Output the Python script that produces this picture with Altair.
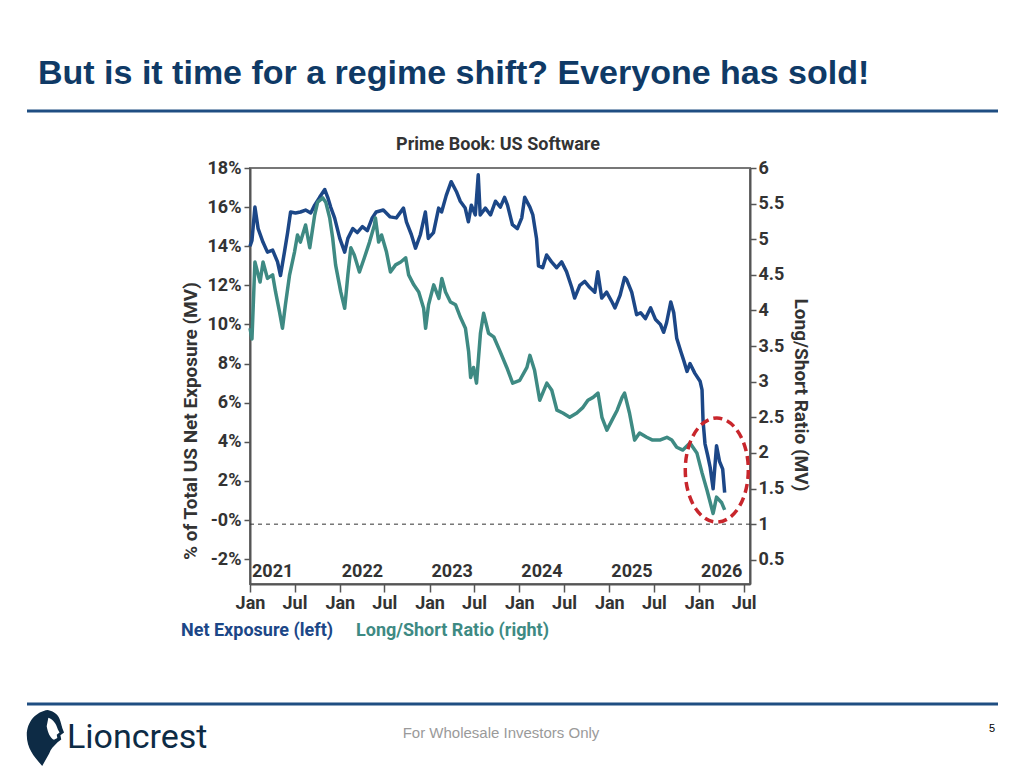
import altair as alt
import pandas as pd

# ---------------- data ----------------
net_dates = [
    "2021-01-01", "2021-01-09", "2021-01-21", "2021-02-03", "2021-02-23", "2021-03-13",
    "2021-04-03", "2021-04-23", "2021-05-05", "2021-05-21", "2021-06-03", "2021-06-15",
    "2021-07-05", "2021-07-25", "2021-08-15", "2021-09-05", "2021-09-21", "2021-10-11",
    "2021-11-01", "2021-11-13", "2021-11-25", "2021-12-11", "2022-01-01", "2022-01-21",
    "2022-02-03", "2022-02-23", "2022-03-13", "2022-04-03", "2022-04-23", "2022-05-13",
    "2022-05-29", "2022-06-27", "2022-07-25", "2022-08-19", "2022-09-17", "2022-09-29",
    "2022-10-19", "2022-11-05", "2022-11-25", "2022-12-15", "2022-12-27", "2023-01-17",
    "2023-02-07", "2023-02-19", "2023-03-10", "2023-03-30", "2023-04-20", "2023-05-06",
    "2023-05-26", "2023-06-08", "2023-06-20", "2023-07-06", "2023-07-18", "2023-07-26",
    "2023-08-16", "2023-09-06", "2023-09-26", "2023-10-16", "2023-11-02", "2023-11-14",
    "2023-12-04", "2023-12-24", "2024-01-11", "2024-01-23", "2024-02-13", "2024-02-25",
    "2024-03-11", "2024-03-19", "2024-04-05", "2024-04-21", "2024-05-11", "2024-06-01",
    "2024-06-21", "2024-07-11", "2024-08-01", "2024-08-13", "2024-09-03", "2024-09-23",
    "2024-10-13", "2024-11-03", "2024-11-15", "2024-12-01", "2024-12-21", "2025-01-12",
    "2025-01-24", "2025-02-14", "2025-03-04", "2025-03-12", "2025-04-02", "2025-04-22",
    "2025-05-08", "2025-05-28", "2025-06-18", "2025-07-08", "2025-07-28", "2025-08-10",
    "2025-08-22", "2025-09-08", "2025-09-20", "2025-10-02", "2025-10-19", "2025-11-01",
    "2025-11-13", "2025-11-25", "2025-12-15", "2026-01-05", "2026-01-13", "2026-01-17",
    "2026-01-25", "2026-02-05", "2026-02-15", "2026-02-27", "2026-03-13", "2026-03-25",
    "2026-04-07", "2026-04-15",
]
net_values = [
    14.0, 14.3, 16.0, 14.9, 14.2, 13.7,
    13.8, 13.2, 12.5, 13.7, 14.7, 15.75,
    15.7, 15.75, 15.85, 15.7, 16.1, 16.5,
    16.9, 16.5, 16.0, 15.45, 14.4, 13.7,
    14.4, 14.9, 14.7, 15.0, 14.8, 15.45,
    15.75, 15.85, 15.5, 15.45, 15.95, 15.25,
    14.6, 13.9, 14.6, 15.75, 14.4, 14.7,
    15.95, 15.75, 16.6, 17.3, 16.8, 16.3,
    15.95, 15.25, 16.1, 15.6, 17.65, 15.6,
    15.95, 15.6, 16.3, 16.0, 16.5, 16.1,
    15.1, 14.9, 15.45, 16.5, 16.0, 15.6,
    14.4, 13.0, 12.9, 13.55, 13.2, 12.9,
    13.2, 12.7, 11.9, 11.35, 12.0, 12.2,
    11.9, 11.65, 12.7, 11.35, 11.65, 11.15,
    10.85, 11.5, 12.4, 12.3, 11.65, 10.5,
    10.6, 10.3, 10.85, 10.25, 10.0, 9.6,
    10.1, 11.15, 10.6, 9.3, 8.6, 8.1,
    7.6, 8.0, 7.5, 7.1, 6.65, 5.1,
    3.9, 3.3, 2.7, 1.6, 3.8, 3.0,
    2.6, 1.4,
]

ratio_dates = [
    "2021-01-01", "2021-01-09", "2021-01-21", "2021-02-11", "2021-02-23", "2021-03-13",
    "2021-04-03", "2021-04-15", "2021-05-01", "2021-05-13", "2021-05-25", "2021-06-11",
    "2021-07-01", "2021-07-13", "2021-07-25", "2021-08-15", "2021-09-01", "2021-09-21",
    "2021-10-03", "2021-10-24", "2021-11-05", "2021-11-21", "2021-12-03", "2021-12-15",
    "2022-01-05", "2022-01-21", "2022-02-03", "2022-02-15", "2022-03-01", "2022-03-22",
    "2022-04-11", "2022-05-02", "2022-05-22", "2022-05-26", "2022-06-08", "2022-06-20",
    "2022-07-10", "2022-07-26", "2022-08-16", "2022-09-06", "2022-09-26", "2022-10-08",
    "2022-10-29", "2022-11-18", "2022-12-08", "2022-12-16", "2022-12-28", "2023-01-18",
    "2023-02-08", "2023-02-20", "2023-03-07", "2023-03-27", "2023-04-17", "2023-05-07",
    "2023-05-27", "2023-06-09", "2023-06-17", "2023-06-29", "2023-07-11", "2023-07-27",
    "2023-08-09", "2023-08-29", "2023-09-19", "2023-10-13", "2023-11-11", "2023-12-05",
    "2024-01-03", "2024-02-01", "2024-02-13", "2024-03-03", "2024-03-24", "2024-04-22",
    "2024-05-12", "2024-06-02", "2024-06-26", "2024-07-24", "2024-08-22", "2024-09-16",
    "2024-10-06", "2024-10-27", "2024-11-16", "2024-12-02", "2024-12-22", "2025-01-12",
    "2025-02-02", "2025-02-22", "2025-03-04", "2025-03-24", "2025-04-14", "2025-05-04",
    "2025-06-02", "2025-06-26", "2025-07-25", "2025-08-23", "2025-09-12", "2025-10-02",
    "2025-10-27", "2025-11-25", "2025-12-23", "2026-01-13", "2026-02-02", "2026-02-27",
    "2026-03-13", "2026-04-03", "2026-04-15",
]
ratio_values = [
    3.75, 3.6, 4.68, 4.4, 4.68, 4.45,
    4.5, 4.26, 3.98, 3.75, 4.08, 4.5,
    4.82, 5.06, 4.96, 5.2, 4.88, 5.34,
    5.52, 5.58, 5.52, 5.3, 5.02, 4.64,
    4.26, 4.03, 4.5, 4.88, 4.78, 4.54,
    4.74, 4.96, 5.2, 5.3, 4.96, 5.06,
    4.82, 4.54, 4.64, 4.68, 4.74, 4.5,
    4.36, 4.26, 4.03, 3.75, 4.08, 4.36,
    4.17, 4.45, 4.26, 4.12, 4.08, 3.9,
    3.75, 3.42, 3.06, 3.2, 2.98, 3.68,
    3.96, 3.68, 3.63, 3.44, 3.2, 2.98,
    3.02, 3.2, 3.37, 3.16, 2.74, 2.98,
    2.88, 2.6, 2.56, 2.5, 2.56, 2.64,
    2.74, 2.78, 2.84, 2.5, 2.32, 2.46,
    2.6, 2.78, 2.84, 2.56, 2.18, 2.28,
    2.22, 2.18, 2.18, 2.22, 2.18, 2.08,
    2.04, 2.14, 2.0, 1.72, 1.48, 1.15,
    1.38, 1.3, 1.2,
]

year_labels = ["2021", "2022", "2023", "2024", "2025", "2026"]
year_starts = ["2021-01-01", "2022-01-01", "2023-01-01", "2024-01-01", "2025-01-01", "2026-01-01"]

left_ticks = [-2, 0, 2, 4, 6, 8, 10, 12, 14, 16, 18]
right_ticks = [0.5, 1, 1.5, 2, 2.5, 3, 3.5, 4, 4.5, 5, 5.5, 6]
parity_level = [1.0]

# highlighted recent selloff
focus_date = ["2026-03-14"]
focus_ratio = [1.76]

# ---------------- styling ----------------
NAVY = "#1c4787"
TEAL = "#3e8a83"
INK = "#333333"
FONT = "Roboto"
FS = 18
W, H = 500, 416

net_df = pd.DataFrame({"date": net_dates, "net": net_values})
ratio_df = pd.DataFrame({"date": ratio_dates, "ratio": ratio_values})
year_df = pd.DataFrame({"date": year_starts, "label": year_labels})

x_ticks = []
for yr in range(2021, 2027):
    x_ticks.append(alt.DateTime(year=yr, month=1, date=1, utc=True))
    x_ticks.append(alt.DateTime(year=yr, month=7, date=1, utc=True))

x_scale = alt.Scale(
    type="utc",
    domain=[alt.DateTime(year=2021, month=1, date=1, utc=True),
            alt.DateTime(year=2026, month=7, date=27, utc=True)],
)
x_axis = alt.Axis(
    values=x_ticks, labelExpr="utcFormat(datum.value, '%b')", title=None,
    grid=False, tickSize=8, labelPadding=2, labelFlush=False, labelOverlap=False,
)
x_enc = alt.X("date:T", scale=x_scale, axis=x_axis)

left_scale = alt.Scale(domain=[-3.27, 18], nice=False, zero=False)
left_axis = alt.Axis(
    values=left_ticks, labelExpr="datum.value == 0 ? '-0%' : datum.value + '%'",
    title=None, grid=False, tickSize=6, labelPadding=3,
)
right_scale = alt.Scale(domain=[0.16, 6], nice=False, zero=False)
right_axis = alt.Axis(
    values=right_ticks, format=".1~f", orient="right",
    title=None, grid=False, tickSize=6, labelPadding=2,
)
y_left = alt.Y("net:Q", scale=left_scale, axis=left_axis)
y_right = alt.Y("ratio:Q", scale=right_scale, axis=right_axis)


def note(text, x, y, **kw):
    """A piece of text placed in pixel space around the plot area."""
    return alt.Chart(pd.DataFrame({"t": [text]})).mark_text(**kw).encode(
        text="t:N", x=alt.value(x), y=alt.value(y)
    )


def hline(x0, x1, y, color, width):
    return alt.Chart(pd.DataFrame({"k": [0]})).mark_rule(
        color=color, strokeWidth=width
    ).encode(x=alt.value(x0), x2=alt.value(x1), y=alt.value(y))


# ---------------- left axis: net exposure ----------------
net_line = alt.Chart(net_df).mark_line(
    color=NAVY, strokeWidth=3.5, strokeJoin="round"
).encode(x=x_enc, y=y_left)

years = alt.Chart(year_df).mark_text(
    align="left", baseline="middle", dx=2, font=FONT, fontWeight="bold",
    fontSize=FS, color=INK,
).encode(x=x_enc, y=alt.value(H - 12), text="label:N")

chart_bits = [
    note("Prime Book: US Software", W / 2 - 2, -23, font=FONT, fontWeight="bold",
         fontSize=FS, color=INK, align="center", baseline="middle"),
    note("% of Total US Net Exposure (MV)", -59, 253, font=FONT, fontWeight="bold",
         fontSize=19, color=INK, angle=270, align="center", baseline="middle"),
    note("Long/Short Ratio (MV)", 551, 227, font=FONT, fontWeight="bold",
         fontSize=19, color=INK, angle=90, align="center", baseline="middle"),
    note("Net Exposure (left)", -69, 463, font=FONT, fontWeight="bold",
         fontSize=FS, color=NAVY, align="left", baseline="middle"),
    note("Long/Short Ratio (right)", 106, 463, font=FONT, fontWeight="bold",
         fontSize=FS, color=TEAL, align="left", baseline="middle"),
]

# slide furniture
SLIDE_BLUE = "#1f4e82"
slide_bits = [
    note("But is it time for a regime shift? Everyone has sold!", -212, -94,
         font="Liberation Sans", fontWeight="bold", fontSize=34, color="#0f3a66",
         align="left", baseline="middle"),
    hline(-223, 748, -57, SLIDE_BLUE, 3),
    hline(-223, 748, 536, SLIDE_BLUE, 3),
    note("For Wholesale Investors Only", 251, 565, font="Liberation Sans",
         fontSize=15, color="#9a9a9a", align="center", baseline="middle"),
    note("5", 742, 561, font="Liberation Sans", fontSize=11, color="#000000",
         align="center", baseline="middle"),
    note("Lioncrest", -183, 570, font=FONT, fontSize=34, color="#0d2b45",
         align="left", baseline="middle"),
]

lion_head = (
    "M 0.1 -1 C 0.35 -0.95 0.5 -0.8 0.55 -0.6 L 0.62 -0.35 L 0.68 -0.2 "
    "L 0.55 -0.1 L 0.58 0.05 L 0.45 0.15 C 0.3 0.3 0.2 0.4 0.15 0.55 "
    "L -0.1 1 C -0.35 0.7 -0.65 0.4 -0.65 -0.1 C -0.65 -0.6 -0.3 -0.95 0.1 -1 Z"
)
lion_face = (
    "M 0.12 -0.72 C 0.3 -0.66 0.4 -0.5 0.46 -0.3 L 0.52 -0.2 L 0.42 -0.12 "
    "L 0.44 0.0 L 0.32 0.06 C 0.18 0.0 0.1 -0.2 0.06 -0.42 Z"
)
lion = alt.Chart(pd.DataFrame({"shape": [lion_head, lion_face],
                               "fill": ["#0d2b45", "#ffffff"]})).mark_point(
    filled=True, opacity=1, size=3136, strokeWidth=0
).encode(
    x=alt.value(-205), y=alt.value(570),
    shape=alt.Shape("shape:N", scale=None, legend=None),
    fill=alt.Fill("fill:N", scale=None, legend=None),
)

left_layer = alt.layer(net_line, years, *chart_bits, *slide_bits, lion)

# ---------------- right axis: long/short ratio ----------------
ratio_line = alt.Chart(ratio_df).mark_line(
    color=TEAL, strokeWidth=3.5, strokeJoin="round"
).encode(x=x_enc, y=y_right)

parity = alt.Chart(pd.DataFrame({"ratio": parity_level})).mark_rule(
    color=INK, strokeWidth=1, strokeDash=[4, 4]
).encode(y=y_right)

ellipse_path = (
    "M 0.606 0 C 0.606 0.552 0.335 1 0 1 C -0.335 1 -0.606 0.552 -0.606 0 "
    "C -0.606 -0.552 -0.335 -1 0 -1 C 0.335 -1 0.606 -0.552 0.606 0 Z"
)
focus = alt.Chart(pd.DataFrame({"date": focus_date, "ratio": focus_ratio})).mark_point(
    shape=ellipse_path, filled=False, color="#c8262c", opacity=1, size=10816,
    strokeWidth=3.5, strokeDash=[9, 5],
).encode(x=x_enc, y=y_right)

right_layer = alt.layer(ratio_line, parity, focus)

chart = (
    alt.layer(left_layer, right_layer)
    .resolve_scale(y="independent")
    .properties(
        width=W, height=H,
        padding={"left": 250, "top": 168, "right": 274, "bottom": 184},
        autosize=alt.AutoSizeParams(type="none"),
        background="white",
    )
    .configure_view(stroke="#777777", strokeWidth=2)
    .configure_axis(
        labelFont=FONT, labelFontWeight="bold", labelFontSize=FS, labelColor=INK,
        domainColor="#555555", domainWidth=2, tickColor="#555555", tickWidth=1.5,
    )
)

chart.save("out.html", embed_options={"renderer": "svg", "actions": False})
